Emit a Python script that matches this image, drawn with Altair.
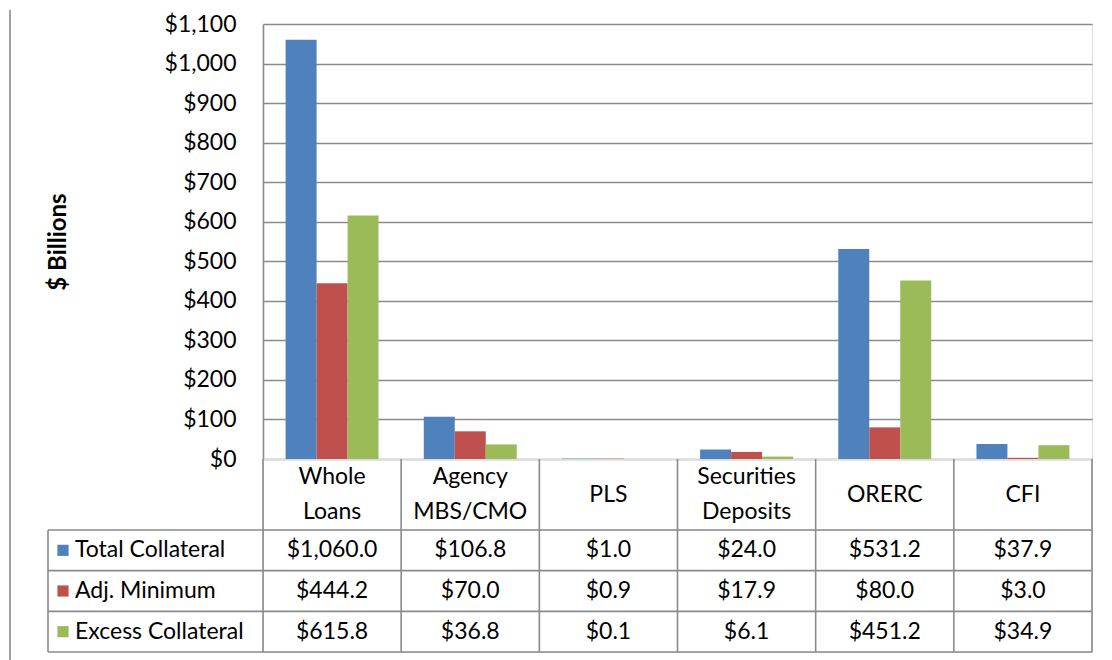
import altair as alt
import pandas as pd

categories = ["Whole Loans", "Agency MBS/CMO", "PLS", "Securities Deposits", "ORERC", "CFI"]
header_labels = [["Whole", "Loans"], ["Agency", "MBS/CMO"], ["PLS"], ["Securities", "Deposits"], ["ORERC"], ["CFI"]]
series = ["Total Collateral", "Adj. Minimum", "Excess Collateral"]
total_collateral = [1060.0, 106.8, 1.0, 24.0, 531.2, 37.9]
adj_minimum = [444.2, 70.0, 0.9, 17.9, 80.0, 3.0]
excess_collateral = [615.8, 36.8, 0.1, 6.1, 451.2, 34.9]
colors = ["#4F81BD", "#C0504D", "#9BBB59"]
y_ticks = list(range(0, 1101, 100))

rows = []
for s, vals in zip(series, [total_collateral, adj_minimum, excess_collateral]):
    for c, v in zip(categories, vals):
        rows.append({"category": c, "series": s, "value": v})
df = pd.DataFrame(rows)

slots = ["upper", "center", "lower"]
head_rows = []
for c, lines in zip(categories, header_labels):
    if len(lines) == 1:
        head_rows.append({"category": c, "slot": "center", "text": lines[0]})
    else:
        head_rows.append({"category": c, "slot": "upper", "text": lines[0]})
        head_rows.append({"category": c, "slot": "lower", "text": lines[1]})
head_df = pd.DataFrame(head_rows)
cat_df = pd.DataFrame({"category": categories})
one = pd.DataFrame({"k": [0]})
ser_df = pd.DataFrame({"series": series})

W, H_BARS, H_HEAD, H_ROWS = 829, 435, 71, 122
FONT = "Lato"
FS = 23
GRID = "#8A8A8A"
LW = 1.6
BORDER_X = -253

xscale = alt.Scale(domain=categories, paddingInner=0, paddingOuter=0)
color_scale = alt.Scale(domain=series, range=colors)

# --- bars ---
bars = alt.Chart(df).mark_bar().encode(
    x=alt.X("category:N", sort=categories, scale=xscale, axis=None),
    xOffset=alt.XOffset("series:N", sort=series,
                        scale=alt.Scale(domain=series, paddingInner=0, paddingOuter=0.73)),
    y=alt.Y("value:Q", scale=alt.Scale(domain=[0, 1100], nice=False),
            axis=alt.Axis(values=y_ticks, format="$,d", title="$ Billions",
                          grid=True, gridColor=GRID, gridWidth=LW, domainColor=GRID,
                          domainWidth=LW, ticks=False,
                          labelPadding=27, labelFontSize=FS, labelFont=FONT, labelColor="black",
                          titleFont=FONT, titleFontSize=24, titleFontWeight="bold",
                          titleColor="black", titlePadding=94)),
    color=alt.Color("series:N", sort=series, scale=color_scale, legend=None),
)
border_top = alt.Chart(one).mark_rule(color=GRID, strokeWidth=LW).encode(
    x=alt.value(BORDER_X), y=alt.value(-14), y2=alt.value(H_BARS))
top = alt.layer(bars, border_top).properties(width=W, height=H_BARS)

# --- header row (category names) ---
xcat = alt.X("category:N", sort=categories, scale=xscale, axis=None)
header_text = alt.Chart(head_df).mark_text(
    fontSize=FS, font=FONT, baseline="middle", color="black").encode(
    x=xcat,
    y=alt.Y("slot:N", scale=alt.Scale(type="point", domain=slots, padding=1.25), axis=None),
    text="text:N",
)
head_vlines = alt.Chart(cat_df).mark_rule(color=GRID, strokeWidth=LW).encode(
    x=alt.X("category:N", sort=categories, scale=xscale, axis=None, bandPosition=0),
    y=alt.value(0), y2=alt.value(H_HEAD))
head_right = alt.Chart(one).mark_rule(color=GRID, strokeWidth=LW).encode(
    x=alt.value(W), y=alt.value(0), y2=alt.value(H_HEAD))
border_mid = alt.Chart(one).mark_rule(color=GRID, strokeWidth=LW).encode(
    x=alt.value(BORDER_X), y=alt.value(0), y2=alt.value(H_HEAD))
header = alt.layer(head_vlines, head_right, header_text, border_mid).properties(
    width=W, height=H_HEAD)

# --- data rows ---
yrow = alt.Y("series:N", sort=series, scale=alt.Scale(domain=series, paddingInner=0, paddingOuter=0),
             axis=None)
cells = alt.Chart(df).mark_text(fontSize=FS, font=FONT, color="black").encode(
    x=xcat, y=yrow,
    text=alt.Text("value:Q", format="$,.1f"),
)
leg_sq = alt.Chart(ser_df).mark_square(size=125, opacity=1).encode(
    x=alt.value(-200), y=yrow,
    color=alt.Color("series:N", sort=series, scale=color_scale, legend=None))
leg_txt = alt.Chart(ser_df).mark_text(fontSize=FS, font=FONT, align="left", color="black").encode(
    x=alt.value(-188), y=yrow, text="series:N")
row_hlines = alt.Chart(ser_df).mark_rule(color=GRID, strokeWidth=LW).encode(
    x=alt.value(-215), x2=alt.value(W),
    y=alt.Y("series:N", sort=series, bandPosition=0, axis=None))
row_bottom = alt.Chart(one).mark_rule(color=GRID, strokeWidth=LW).encode(
    x=alt.value(-215), x2=alt.value(W), y=alt.value(H_ROWS))
row_vlines = alt.Chart(cat_df).mark_rule(color=GRID, strokeWidth=LW).encode(
    x=alt.X("category:N", sort=categories, scale=xscale, axis=None, bandPosition=0),
    y=alt.value(0), y2=alt.value(H_ROWS))
row_right = alt.Chart(one).mark_rule(color=GRID, strokeWidth=LW).encode(
    x=alt.value(W), y=alt.value(0), y2=alt.value(H_ROWS))
leg_left = alt.Chart(one).mark_rule(color=GRID, strokeWidth=LW).encode(
    x=alt.value(-215), y=alt.value(0), y2=alt.value(H_ROWS))
border_bot = alt.Chart(one).mark_rule(color=GRID, strokeWidth=LW).encode(
    x=alt.value(BORDER_X), y=alt.value(0), y2=alt.value(H_ROWS + 10))
table = alt.layer(row_hlines, row_bottom, row_vlines, row_right, leg_left, border_bot,
                  cells, leg_sq, leg_txt).properties(width=W, height=H_ROWS)

chart = alt.vconcat(top, header, table, spacing=0, bounds="flush").properties(
    padding={"left": 0, "top": 0, "right": 5, "bottom": 0}
).configure_view(stroke="transparent").configure(background="white")

chart.save("out.html", embed_options={"renderer": "svg", "actions": False})
